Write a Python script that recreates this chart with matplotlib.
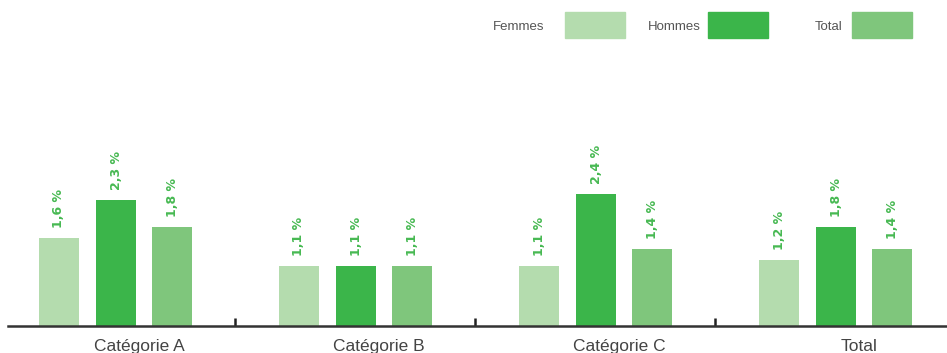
import matplotlib
matplotlib.use("Agg")
import matplotlib.pyplot as plt
from matplotlib.patches import Rectangle
import numpy as np

# data
categories = ["Catégorie A", "Catégorie B", "Catégorie C", "Total"]
series_names = ["Femmes", "Hommes", "Total"]
femmes = [1.6, 1.1, 1.1, 1.2]
hommes = [2.3, 1.1, 2.4, 1.8]
total = [1.8, 1.1, 1.4, 1.4]

colors = ["#b4dcae", "#3bb54a", "#7fc67c"]
label_color = "#47b952"

W, H = 947, 353
fig = plt.figure(figsize=(W / 100, H / 100), dpi=100)

# axes from x=8px to right edge, bottom line at y=326px
ax = fig.add_axes([8 / W, 27 / H, 1 - 8 / W, 326 / H])
ax.set_xlim((8 - 115) / 240, (947 - 115) / 240)
ax.set_ylim(0, 326 / 55)

x = np.arange(len(categories))
bw = 40 / 240
offs = [-56 / 240, 1 / 240, 57 / 240]

for vals, off, col in zip([femmes, hommes, total], offs, colors):
    bars = ax.bar(x + off, vals, width=bw, color=col, zorder=2)
    for b, v in zip(bars, vals):
        ax.annotate(("%.1f%%" % v).replace(".", ",").replace("%", " %"),
                    (b.get_x() + b.get_width() / 2, v),
                    xytext=(0, 7), textcoords="offset points",
                    rotation=90, ha="center", va="bottom",
                    color=label_color, fontsize=9, fontweight="bold",
                    family=["DejaVu Sans Condensed", "DejaVu Sans"])

for s in ["top", "right", "left"]:
    ax.spines[s].set_visible(False)
ax.spines["bottom"].set_color("#333333")
ax.spines["bottom"].set_linewidth(1.8)
ax.set_yticks([])
ax.set_xticks([0.5, 1.5, 2.5])
ax.set_xticklabels([])
ax.tick_params(axis="x", direction="in", length=6, width=1.8, color="#222222")

for i, c in enumerate(categories):
    ax.text(i + 0.1, -25 / 55, c, ha="center", va="baseline", fontsize=12.5,
            color="#444444", family="Liberation Sans", clip_on=False)

# legend drawn manually
leg_text_x = [493, 648, 815]
leg_box_x = [565, 708, 852]
for name, tx, bx, col in zip(series_names, leg_text_x, leg_box_x, colors):
    fig.text(tx / W, 1 - 27 / H, name, ha="left", va="center", fontsize=9.5,
             color="#555555", family="Liberation Sans")
    fig.add_artist(Rectangle((bx / W, 1 - 38 / H), 60 / W, 26 / H,
                             transform=fig.transFigure, color=col))

fig.savefig("out.png", dpi=100)
